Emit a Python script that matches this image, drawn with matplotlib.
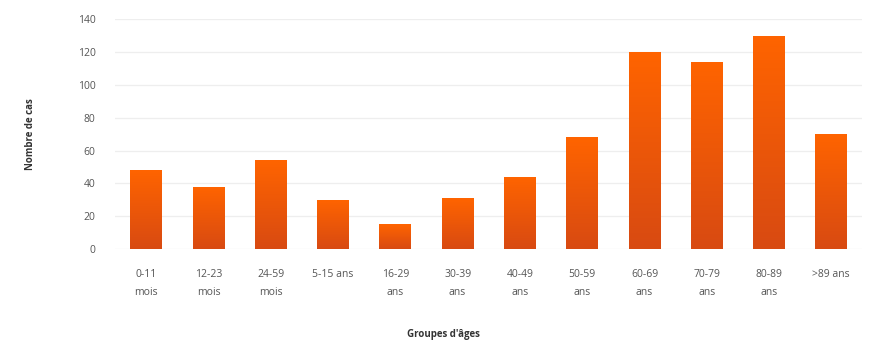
"""Bar chart: number of cases by age group."""
import matplotlib

matplotlib.use("Agg")

import matplotlib.pyplot as plt
import numpy as np
from matplotlib.colors import LinearSegmentedColormap

# --- data -------------------------------------------------------------------
age_groups = ["0-11\nmois", "12-23\nmois", "24-59\nmois", "5-15 ans", "16-29\nans",
              "30-39\nans", "40-49\nans", "50-59\nans", "60-69\nans", "70-79\nans",
              "80-89\nans", ">89 ans"]
cases = [48, 38, 54, 30, 15, 31, 44, 68, 120, 114, 130, 70]
y_ticks = [0, 20, 40, 60, 80, 100, 120, 140]

plt.rcParams["font.family"] = ["Open Sans", "DejaVu Sans"]

fig = plt.figure(figsize=(8.72, 3.47), dpi=100)
ax = fig.add_axes([0.132, 0.282, 0.857, 0.663])

x = np.arange(len(cases))
bars = ax.bar(x, cases, width=0.51, color="#f05a08", edgecolor="none", zorder=2)

# vertical gradient inside each bar (light orange on top, darker at the base)
cmap = LinearSegmentedColormap.from_list("orange", ["#d84a12", "#ff6400"])
grad = np.linspace(0, 1, 256).reshape(-1, 1)
for bar in bars:
    x0, w, h = bar.get_x(), bar.get_width(), bar.get_height()
    im = ax.imshow(grad, cmap=cmap, origin="lower", aspect="auto",
                   extent=(x0, x0 + w, 0, h), zorder=3)
    im.set_clip_path(bar)

ax.set_xlim(-0.5, len(cases) - 0.5)
ax.set_ylim(0, 140)
ax.set_yticks(y_ticks)
ax.set_xticks(x)
ax.set_xticklabels(age_groups, linespacing=1.9)
ax.tick_params(axis="both", length=0, labelsize=7.5, colors="#555555")
ax.tick_params(axis="x", pad=14)
ax.tick_params(axis="y", pad=14)
ax.grid(axis="y", color="#eeeeee", linewidth=0.9, zorder=0)
for spine in ax.spines.values():
    spine.set_visible(False)

ax.set_ylabel("Nombre de cas", fontsize=7, fontweight="bold", color="#333333", labelpad=30)
ax.set_xlabel("Groupes d'âges", fontsize=7, fontweight="bold", color="#333333")
ax.xaxis.set_label_coords(0.44, -0.345)

fig.savefig("out.png", dpi=100)
